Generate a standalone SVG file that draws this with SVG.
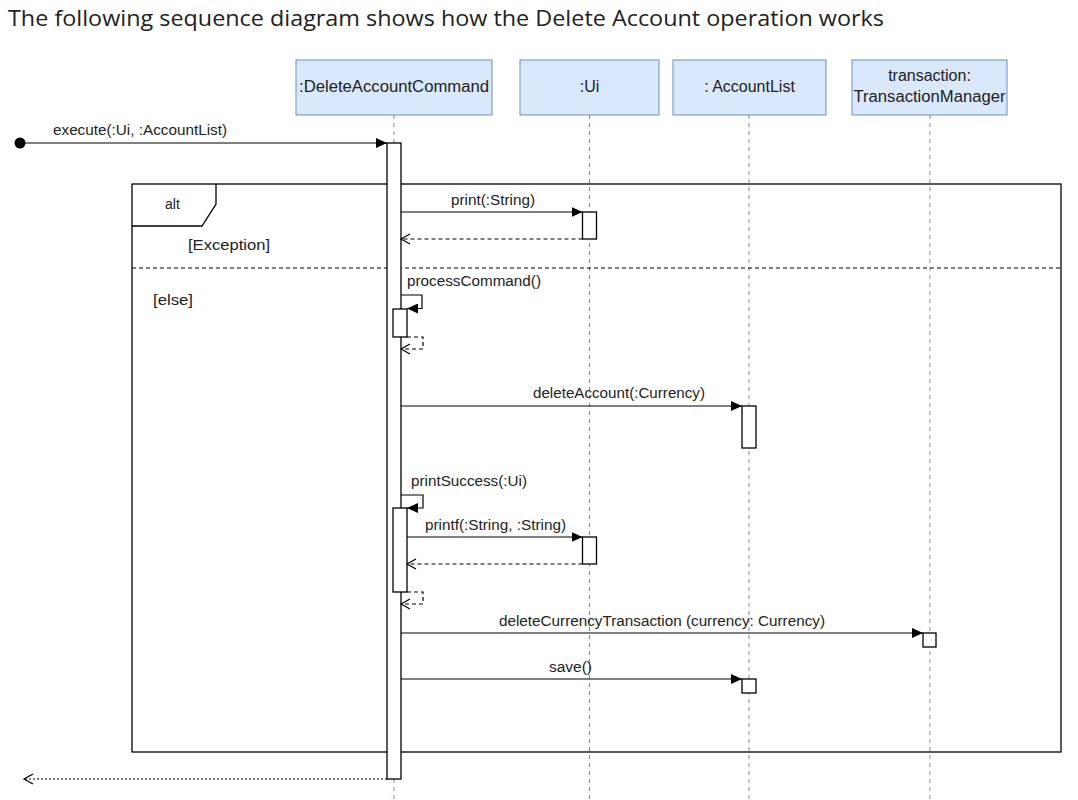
<svg xmlns="http://www.w3.org/2000/svg" width="1078" height="800" viewBox="0 0 1078 800">
<style>
.hdr{fill:#dae8fc;stroke:#6c8ebf;stroke-width:1}
.life{stroke:#6c8ebf;stroke-width:1;stroke-dasharray:4 4;fill:none}
.act{fill:#fff;stroke:#000;stroke-width:1.3}
.msg{stroke:#000;stroke-width:1.2;fill:none}
.ret{stroke:#000;stroke-width:1.2;fill:none;stroke-dasharray:4 3}
.dot{stroke:#000;stroke-width:1.2;fill:none;stroke-dasharray:2 2}
.frame{fill:none;stroke:#000;stroke-width:1.3}
.sep{stroke:#000;stroke-width:1.2;stroke-dasharray:4 3}
.lbl{font-family:"Liberation Sans",Arial,sans-serif;font-size:14px;fill:#222}
.hl{font-family:"Liberation Sans",Arial,sans-serif;font-size:16px;fill:#222;text-anchor:middle}
.title{font-family:"Open Sans","Noto Sans",sans-serif;font-size:21px;fill:#222}
</style>
<defs>
<marker id="fill" markerWidth="12" markerHeight="10" refX="11" refY="5" orient="auto" markerUnits="userSpaceOnUse">
<path d="M0,0 L11,5 L0,10 Z" fill="#000"/>
</marker>
<marker id="open" markerWidth="12" markerHeight="12" refX="10" refY="6" orient="auto" markerUnits="userSpaceOnUse">
<path d="M1,1 L10,6 L1,11" fill="none" stroke="#000" stroke-width="1.2"/>
</marker>
</defs>
<rect width="1078" height="800" fill="#fff"/>
<text class="title" x="8" y="26" textLength="876" lengthAdjust="spacingAndGlyphs">The following sequence diagram shows how the Delete Account operation works</text>

<g id="lifelines">
<line class="life" x1="394" y1="115" x2="394" y2="800"/>
<line class="life" x1="589.5" y1="115" x2="589.5" y2="800"/>
<line class="life" x1="749" y1="115" x2="749" y2="800"/>
<line class="life" x1="930" y1="115" x2="930" y2="800"/>
</g>

<g id="DeleteAccountCommand">
<rect class="hdr" x="296" y="60" width="196" height="55"/>
<text class="hl" x="394" y="92" textLength="190" lengthAdjust="spacingAndGlyphs">:DeleteAccountCommand</text>
</g>
<g id="Ui">
<rect class="hdr" x="520" y="60" width="139" height="55"/>
<text class="hl" x="589.5" y="92">:Ui</text>
</g>
<g id="AccountList">
<rect class="hdr" x="673" y="60" width="153" height="55"/>
<text class="hl" x="749.5" y="92">: AccountList</text>
</g>
<g id="TransactionManager">
<rect class="hdr" x="852" y="60" width="155" height="55"/>
<text class="hl" x="929.5" y="81">transaction:</text>
<text class="hl" x="929.5" y="102" textLength="152" lengthAdjust="spacingAndGlyphs">TransactionManager</text>
</g>

<g id="alt-frame">
<rect class="frame" x="132" y="184" width="929" height="568"/>
<path class="frame" d="M132,226 H202 L216,204 V184"/>
<text class="lbl" x="165" y="209">alt</text>
<text class="lbl" x="188" y="250" textLength="82" lengthAdjust="spacingAndGlyphs">[Exception]</text>
<line class="sep" x1="132" y1="268" x2="1061" y2="268"/>
<text class="lbl" x="153" y="305" textLength="40" lengthAdjust="spacingAndGlyphs">[else]</text>
</g>

<g id="activations">
<rect class="act" x="387" y="143" width="14" height="636"/>
<rect class="act" x="582.5" y="212" width="14" height="27"/>
<rect class="act" x="393" y="309" width="14" height="28"/>
<rect class="act" x="742" y="406" width="14" height="42"/>
<rect class="act" x="393" y="508" width="14" height="84"/>
<rect class="act" x="582.5" y="537" width="14" height="27"/>
<rect class="act" x="923" y="633" width="13" height="14"/>
<rect class="act" x="742" y="679" width="14" height="14"/>
</g>

<g id="connectors">
<circle cx="20" cy="143" r="5.5" fill="#000"/>
<line class="msg" x1="20" y1="143" x2="387" y2="143" marker-end="url(#fill)"/>
<text class="lbl" x="53" y="135" textLength="174" lengthAdjust="spacingAndGlyphs">execute(:Ui, :AccountList)</text>

<line class="msg" x1="401" y1="212" x2="582.5" y2="212" marker-end="url(#fill)"/>
<text class="lbl" x="451" y="205" textLength="84" lengthAdjust="spacingAndGlyphs">print(:String)</text>
<line class="ret" x1="582.5" y1="239" x2="401" y2="239" marker-end="url(#open)"/>

<path class="msg" d="M401,295 H422 V308.5 H407" marker-end="url(#fill)"/>
<text class="lbl" x="407" y="286" textLength="134" lengthAdjust="spacingAndGlyphs">processCommand()</text>
<path class="ret" d="M407,337 H423 V349 H401" marker-end="url(#open)"/>

<line class="msg" x1="401" y1="406" x2="742" y2="406" marker-end="url(#fill)"/>
<text class="lbl" x="533" y="398" textLength="172" lengthAdjust="spacingAndGlyphs">deleteAccount(:Currency)</text>

<path class="msg" d="M401,495 H423 V508 H407" marker-end="url(#fill)"/>
<text class="lbl" x="411" y="486" textLength="116" lengthAdjust="spacingAndGlyphs">printSuccess(:Ui)</text>
<line class="msg" x1="407" y1="537" x2="582.5" y2="537" marker-end="url(#fill)"/>
<text class="lbl" x="425" y="530" textLength="141" lengthAdjust="spacingAndGlyphs">printf(:String, :String)</text>
<line class="ret" x1="582.5" y1="564" x2="407" y2="564" marker-end="url(#open)"/>
<path class="ret" d="M407,592 H423 V604 H401" marker-end="url(#open)"/>

<line class="msg" x1="401" y1="633" x2="923" y2="633" marker-end="url(#fill)"/>
<text class="lbl" x="499" y="626" textLength="326" lengthAdjust="spacingAndGlyphs">deleteCurrencyTransaction (currency: Currency)</text>

<line class="msg" x1="401" y1="679" x2="742" y2="679" marker-end="url(#fill)"/>
<text class="lbl" x="549" y="672" textLength="43" lengthAdjust="spacingAndGlyphs">save()</text>

<line class="dot" x1="387" y1="779" x2="24" y2="779" marker-end="url(#open)"/>
</g>
</svg>
